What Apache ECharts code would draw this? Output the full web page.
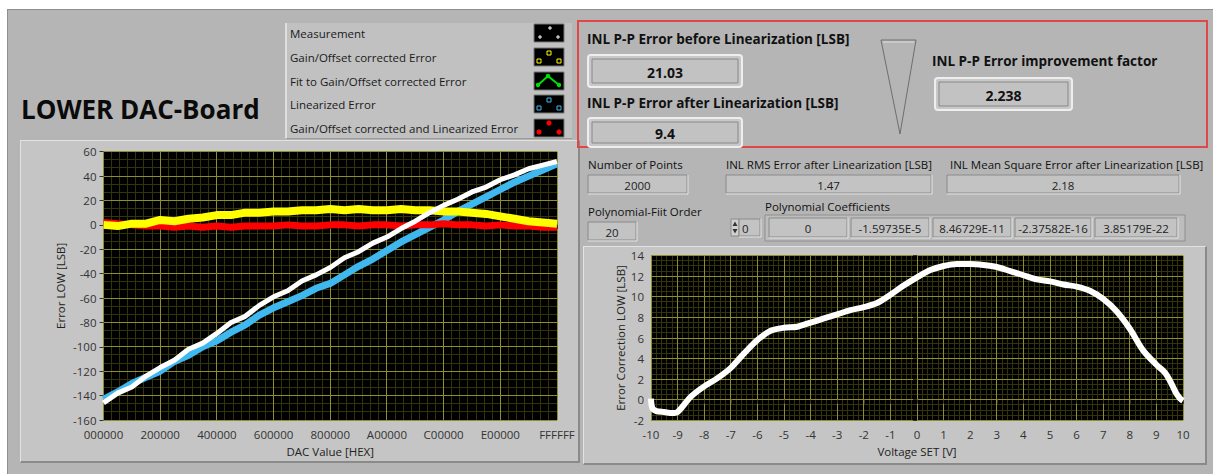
<!DOCTYPE html>
<html>
<head>
<meta charset="utf-8">
<script src="https://cdn.jsdelivr.net/npm/echarts@6/dist/echarts.min.js"></script>
<style>
  html, body { margin:0; padding:0; background:#ffffff; }
  #wrap { position:relative; width:1213px; height:474px; overflow:hidden; }
  .pnl { position:absolute; box-sizing:border-box; }
  #outer { left:7px; top:9px; width:1206px; height:465px; background:#b5b5b5; border-top:1px solid #8e8e8e; border-left:1px solid #8e8e8e; }
  #lframe { left:20px; top:140px; width:560px; height:323px; background:#c5c5c5; border-top:1px solid #e2e2e2; border-left:1px solid #e2e2e2; border-right:2px solid #8a8a8a; border-bottom:2px solid #8a8a8a; }
  #rframe { left:583px; top:246px; width:624px; height:219px; background:#c5c5c5; border-top:1px solid #e2e2e2; border-left:1px solid #e2e2e2; border-right:2px solid #8a8a8a; border-bottom:2px solid #8a8a8a; }
  #legbox { left:285px; top:23px; width:287px; height:116px; background:#c1c1c1; border-left:2px solid #dedede; border-bottom:1px solid #9a9a9a; }
  #chart { position:absolute; left:0; top:0; width:1213px; height:474px; }
</style>
</head>
<body>
<div id="wrap">
  <div class="pnl" id="outer"></div>
  <div class="pnl" id="lframe"></div>
  <div class="pnl" id="rframe"></div>
  <div class="pnl" id="legbox"></div>
  <div id="chart"></div>
</div>
<script>
// ---------- DATA ----------
const dacHex = ['000000','080000','100000','180000','200000','280000','300000','380000','400000','480000','500000','580000','600000','680000','700000','780000','800000','880000','900000','980000','A00000','A80000','B00000','B80000','C00000','C80000','D00000','D80000','E00000','E80000','F00000','F80000','FFFFFF'];
const measurement      = [-146,-138,-133,-124,-117,-111,-102,-97,-89,-80,-75,-66,-59,-54,-46,-41,-35,-27,-22,-15,-10,-3,3,10,16,21,27,31,37,41,46,49,52];
const gainOffsetErr    = [0,-1,1,1,4,3,5,6,8,8,10,10,11,11,12,12,13,12,13,12,12,13,12,12,11,11,10,9,7,5,3,2,1];
const linearizedErr    = [-143,-137,-130,-125,-120,-112,-107,-100,-95,-88,-82,-74,-68,-63,-58,-52,-48,-41,-34,-28,-21,-14,-8,-2,4,11,17,23,29,35,40,45,50];
const corrLinearErr    = [2,1,0,-1,-1,-2,-1,-2,-1,-2,-1,-1,-1,0,-1,-1,0,0,-1,0,0,-1,0,0,1,0,0,-1,0,-1,-1,-2,-2];

const voltSet = [-10,-9.95,-9.8,-9.5,-9.2,-9,-8.5,-8,-7.5,-7,-6.5,-6,-5.5,-5,-4.5,-4,-3.5,-3,-2.5,-2,-1.5,-1,-0.5,0,0.5,1,1.5,2,2.5,3,3.5,4,4.5,5,5.5,6,6.5,7,7.5,8,8.5,9,9.3,9.5,9.75,9.9,10];
const errCorrection = [0.1,-0.8,-1.1,-1.2,-1.3,-1.2,0.3,1.3,2.1,3.1,4.5,5.8,6.7,7.0,7.1,7.5,7.9,8.3,8.7,9.0,9.4,10.2,11.1,11.9,12.6,13.0,13.2,13.2,13.1,12.9,12.5,12.1,11.7,11.5,11.2,11.0,10.6,9.8,8.6,6.9,4.8,3.4,2.7,1.9,0.6,0.1,-0.1];

const legendNames = ['Measurement','Gain/Offset corrected Error','Fit to Gain/Offset corrected Error','Linearized Error','Gain/Offset corrected and Linearized Error'];
const ppBefore = '21.03';
const ppAfter = '9.4';
const improvement = '2.238';
const numPoints = '2000';
const rmsErr = '1.47';
const msErr = '2.18';
const fitOrder = '20';
const coefIndex = '0';
const coefficients = ['0','-1.59735E-5','8.46729E-11','-2.37582E-16','3.85179E-22'];

// ---------- HELPERS ----------
const FF = '"Open Sans", "Noto Sans", sans-serif';
function T(x, y, text, size, weight, align, color) {
  return { type:'text', x:x, y:y, silent:true,
    style:{ text:text, fill: color || '#111', font: (weight||'normal') + ' ' + size + 'px ' + FF,
            align: align || 'left', verticalAlign:'middle' } };
}
function R(x, y, w, h, fill, stroke, lw, r) {
  return { type:'rect', silent:true, shape:{x:x, y:y, width:w, height:h, r: r||0},
    style:{ fill: fill, stroke: stroke || null, lineWidth: lw || 1 } };
}
function PL(points, stroke, lw, fill) {
  return { type: fill ? 'polygon' : 'polyline', silent:true, shape:{points:points},
    style:{ stroke: stroke, lineWidth: lw || 1, fill: fill || null } };
}
function C(x, y, r, fill, stroke) {
  return { type:'circle', silent:true, shape:{cx:x, cy:y, r:r}, style:{fill:fill, stroke:stroke||null} };
}
function bigBox(x, y, w, h, val) {
  return [
    R(x, y, w, h, '#c8c8c8', '#eeeeee', 2, 3),
    R(x+4, y+4, w-8, h-8, '#c2c2c2', '#888888', 1),
    T(x + w/2, y + h/2 + 1, val, 14, 'bold', 'center', '#111')
  ];
}
function smallBox(x, y, w, h, val, align) {
  const tx = align === 'left' ? x + 3 : x + w/2;
  return [
    R(x, y, w, h, '#c3c3c3', '#8a8a8a', 1),
    PL([[x, y+h+1],[x+w+1, y+h+1],[x+w+1, y]], '#e4e4e4', 1),
    T(tx, y + h/2 + 1, val, 11.5, 'normal', align || 'center', '#222')
  ];
}

// ---------- GRAPHICS ----------
const g = [];
g.push(T(21, 109, 'LOWER DAC-Board', 26, 'bold', 'left', '#0a0a0a'));

// legend
const legY = [33, 57, 81, 104, 128];
legendNames.forEach((n, i) => g.push(T(290, legY[i], n, 11.5, 'normal', 'left', '#1a1a1a')));
legY.forEach((cy, i) => {
  g.push(R(534, cy-9, 30, 18, '#000', '#777', 1));
  if (i === 0) {
    [[540,cy+4],[550,cy-5],[558,cy+4]].forEach(p => {
      g.push(PL([[p[0]-2,p[1]],[p[0]+2,p[1]]], '#fff', 1));
      g.push(PL([[p[0],p[1]-2],[p[0],p[1]+2]], '#fff', 1));
    });
  } else if (i === 1 || i === 3) {
    const col = i === 1 ? '#ffff00' : '#3fb8f0';
    [[537,cy+2],[547,cy-6],[557,cy+2]].forEach(p => g.push(R(p[0], p[1], 4, 4, null, col, 1)));
  } else if (i === 2) {
    g.push(PL([[538,cy+4],[548,cy-5],[559,cy+4]], '#00e000', 2));
    [[538,cy+4],[548,cy-5],[559,cy+4]].forEach(p => g.push(C(p[0], p[1], 2.2, '#00e000')));
  } else {
    [[539,cy+4],[549,cy-5],[559,cy+4]].forEach(p => g.push(C(p[0], p[1], 2.6, '#ff0000')));
  }
});

// red highlight box
g.push(R(578, 21, 629, 126, null, '#e04848', 2));
g.push(T(587, 39, 'INL P-P Error before Linearization [LSB]', 13.5, 'bold'));
g.push(...bigBox(588, 55, 154, 32, ppBefore));
g.push(T(587, 103, 'INL P-P Error after Linearization [LSB]', 13.5, 'bold'));
g.push(...bigBox(588, 118, 154, 29, ppAfter));
g.push(PL([[881,40],[916,40],[900,134],[881,40]], '#6e6e6e', 1));
g.push(PL([[883,42],[914,42]], '#dcdcdc', 1));
g.push(T(932, 61, 'INL P-P Error improvement factor', 13.5, 'bold'));
g.push(...bigBox(935, 78, 137, 32, improvement));

// lower indicators
g.push(T(588, 164, 'Number of Points', 11.5));
g.push(...smallBox(588, 175, 99, 18, numPoints));
g.push(T(726, 164, 'INL RMS Error after Linearization [LSB]', 11.5));
g.push(...smallBox(726, 175, 205, 18, rmsErr));
g.push(T(950, 164, 'INL Mean Square Error after Linearization [LSB]', 11.5));
g.push(...smallBox(947, 175, 232, 18, msErr));
g.push(T(588, 211, 'Polynomial-Fiit Order', 11.5));
g.push(...smallBox(588, 222, 48, 18, fitOrder));
g.push(T(765, 206, 'Polynomial Coefficients', 11.5));
// index control
g.push(R(731, 219, 8, 17, '#d0d0d0', '#8a8a8a', 1));
g.push(PL([[732.5,226],[735,221.5],[737.5,226]], null, 1, '#333'));
g.push(PL([[732.5,229],[735,233.5],[737.5,229]], null, 1, '#333'));
g.push(...smallBox(739, 219, 21, 17, coefIndex, 'left'));
// array frame
g.push(R(765, 215, 420, 26, '#bdbdbd', '#8f8f8f', 1));
const cellX = [769, 851, 933, 1015, 1095];
const cellW = [78, 78, 78, 76, 82];
coefficients.forEach((c, i) => g.push(...smallBox(cellX[i], 218, cellW[i], 19, c)));

// ---------- AXES ----------
const MAJ = '#8e8e2c', MIN = '#34340a';
function mainAxis(extra) {
  return Object.assign({
    type:'value', z:1,
    axisLine:{show:false},
    axisTick:{show:true, length:4, lineStyle:{color:'#333'}},
    axisLabel:{color:'#333', fontSize:11.5, fontFamily:FF, margin:7},
    splitLine:{show:false},
    minorSplitLine:{show:false},
    nameTextStyle:{color:'#222', fontSize:11.5, fontFamily:FF},
    nameLocation:'middle'
  }, extra);
}
const dacX = dacHex.map(h => parseInt(h, 16));
const hexLabel = v => v >= 16777215 ? 'FFFFFF' : v.toString(16).toUpperCase().padStart(6, '0');

// axis scale settings (min, max, major step, minor subdivisions)
const axesDef = {
  lx: {min:0, max:16777216, step:2097152, sub:7},
  ly: {min:-160, max:60, step:20, sub:3},
  rx: {min:-10, max:10, step:1, sub:5},
  ry: {min:-2, max:14, step:2, sub:4}
};

const option = {
  animation:false,
  backgroundColor:'transparent',
  graphic:{ elements: g },
  grid:[
    {left:103.5, right:656, top:151.7, bottom:54, show:true, backgroundColor:'#000', borderWidth:0},
    {left:651, right:30, top:255.7, bottom:53.7, show:true, backgroundColor:'#000', borderWidth:0}
  ],
  xAxis:[
    mainAxis({gridIndex:0, min:axesDef.lx.min, max:axesDef.lx.max, interval:axesDef.lx.step, name:'DAC Value [HEX]', nameGap:25,
      axisLabel:{color:'#333', fontSize:11.5, fontFamily:FF, margin:8, formatter:hexLabel, showMaxLabel:true}}),
    mainAxis({gridIndex:1, min:axesDef.rx.min, max:axesDef.rx.max, interval:axesDef.rx.step, name:'Voltage SET [V]', nameGap:25,
      axisLabel:{color:'#333', fontSize:11.5, fontFamily:FF, margin:8}})
  ],
  yAxis:[
    mainAxis({gridIndex:0, min:axesDef.ly.min, max:axesDef.ly.max, interval:axesDef.ly.step, name:'Error LOW [LSB]', nameGap:37, nameRotate:90}),
    mainAxis({gridIndex:1, min:axesDef.ry.min, max:axesDef.ry.max, interval:axesDef.ry.step, name:'Error Correction LOW [LSB]', nameGap:24, nameRotate:90})
  ],
  series:[
    {name:legendNames[3], type:'line', xAxisIndex:0, yAxisIndex:0, showSymbol:false, z:3,
      data: dacX.map((x,i)=>[x, linearizedErr[i]]), lineStyle:{color:'#3fb8f0', width:7}},
    {name:legendNames[4], type:'line', xAxisIndex:0, yAxisIndex:0, showSymbol:false, z:4,
      data: dacX.map((x,i)=>[x, corrLinearErr[i]]), lineStyle:{color:'#ff0000', width:7}},
    {name:legendNames[1], type:'line', xAxisIndex:0, yAxisIndex:0, showSymbol:false, z:5,
      data: dacX.map((x,i)=>[x, gainOffsetErr[i]]), lineStyle:{color:'#ffff00', width:8}},
    {name:legendNames[0], type:'line', xAxisIndex:0, yAxisIndex:0, showSymbol:false, z:6,
      data: dacX.map((x,i)=>[x, measurement[i]]), lineStyle:{color:'#ffffff', width:5}},
    {name:'Error Correction', type:'line', xAxisIndex:1, yAxisIndex:1, showSymbol:false, smooth:0.3, z:5,
      data: voltSet.map((x,i)=>[x, errCorrection[i]]), lineStyle:{color:'#ffffff', width:6}}
  ]
};
const chart = echarts.init(document.getElementById('chart'), null, {renderer:'svg'});
chart.setOption(option);

// ---------- GRID LINES (positions from the library's own axis scales) ----------
function gridLines(gi, dx, dy) {
  const minors = [], majors = [];
  const p0 = chart.convertToPixel({gridIndex:gi}, [dx.min, dy.min]);
  const p1 = chart.convertToPixel({gridIndex:gi}, [dx.max, dy.max]);
  const left = Math.min(p0[0], p1[0]), right = Math.max(p0[0], p1[0]);
  const top = Math.min(p0[1], p1[1]), bottom = Math.max(p0[1], p1[1]);
  const crisp = v => Math.round(v - 0.5) + 0.5;
  const nx = Math.round((dx.max - dx.min) / dx.step * dx.sub);
  for (let k = 0; k <= nx; k++) {
    const v = dx.min + k * dx.step / dx.sub;
    const px = crisp(chart.convertToPixel({xAxisIndex:gi}, v));
    const el = {type:'line', silent:true, z:1, shape:{x1:px, y1:top, x2:px, y2:bottom},
      style:{stroke: k % dx.sub === 0 ? MAJ : MIN, lineWidth:1}};
    (k % dx.sub === 0 ? majors : minors).push(el);
  }
  const ny = Math.round((dy.max - dy.min) / dy.step * dy.sub);
  for (let k = 0; k <= ny; k++) {
    const v = dy.min + k * dy.step / dy.sub;
    const py = crisp(chart.convertToPixel({yAxisIndex:gi}, v));
    const el = {type:'line', silent:true, z:1, shape:{x1:left, y1:py, x2:right, y2:py},
      style:{stroke: k % dy.sub === 0 ? MAJ : MIN, lineWidth:1}};
    (k % dy.sub === 0 ? majors : minors).push(el);
  }
  return minors.concat(majors);
}
const gl = gridLines(0, axesDef.lx, axesDef.ly).concat(gridLines(1, axesDef.rx, axesDef.ry));
chart.setOption({ graphic:{ elements: g.concat(gl) } });
</script>
</body>
</html>
